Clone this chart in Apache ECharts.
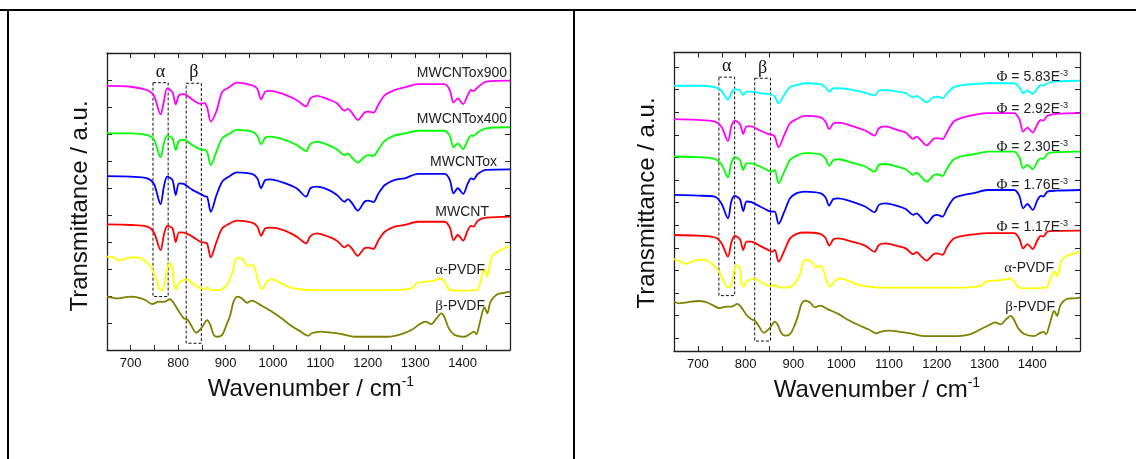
<!DOCTYPE html>
<html>
<head>
    <meta charset="UTF-8">
    <title>FTIR spectra</title>
    <script src="https://cdn.jsdelivr.net/npm/echarts@6/dist/echarts.min.js"></script>
    <style>
        html, body {margin: 0; padding: 0; background: #fff;}
        #main {width: 1136px; height: 459px;}
    </style>
</head>
<body>
<div id="main"></div>
<script>
    // wavenumber grids (cm-1)
    var wnMw = [650,700,735,749,763,770,777,788,795,802,812,830,847,855,861,869,881,893,907,924,956,967,975,984,994,1022,1050,1070,1079,1093,1117,1135,1151,1158,1166,1179,1193,1201,1212,1222,1236,1257,1278,1306,1362,1373,1381,1390,1401,1411,1418,1423,1432,1450,1500];
    var wnAlpha = [650,665,675,686,700,714,728,742,753,760,767,772,777,783,788,791,796,802,812,819,830,844,854,862,868,886,903,914,921,928,938,946,956,963,970,977,987,998,1015,1036,1057,1075,1138,1243,1292,1303,1320,1338,1354,1362,1371,1383,1429,1436,1443,1448,1452,1457,1462,1474,1488,1500];
    var wnBeta = [650,661,672,686,700,714,731,745,760,770,783,791,802,812,819,827,838,851,861,868,875,882,893,902,910,917,925,935,945,956,973,994,1015,1036,1057,1075,1082,1100,1124,1145,1173,1243,1271,1292,1310,1322,1334,1345,1355,1362,1371,1383,1404,1418,1424,1429,1436,1443,1446,1452,1459,1471,1488,1500];

    // left panel (offset transmittance, a.u.)
    var mwcntOx900 = [9.78,9.75,9.62,9.42,8.73,9.2,9.69,9.55,9.1,9.44,9.48,9.28,9.12,9.14,9.0,8.46,8.85,9.56,9.72,9.9,9.8,9.68,9.28,9.57,9.6,9.48,9.26,9.02,9.32,9.41,9.28,9.14,8.86,8.93,8.8,8.52,8.79,8.83,8.79,9.07,9.44,9.63,9.73,9.85,9.85,9.63,9.17,9.32,9.11,9.44,9.63,9.59,9.73,9.94,9.98];
    var mwcntOx400 = [8.02,8.02,7.96,7.8,7.14,7.65,7.94,7.84,7.41,7.75,7.78,7.59,7.43,7.41,7.35,6.85,7.35,7.84,8.0,8.15,8.09,7.93,7.62,7.86,7.9,7.8,7.59,7.37,7.63,7.72,7.59,7.43,7.22,7.28,7.14,6.94,7.16,7.22,7.19,7.41,7.75,7.95,8.02,8.12,8.12,7.93,7.51,7.65,7.44,7.78,7.95,7.93,8.06,8.21,8.25];
    var mwcntOx = [6.44,6.42,6.36,6.15,5.4,6.05,6.42,6.3,5.74,6.17,6.15,5.93,5.78,5.7,5.68,5.12,5.74,6.23,6.42,6.58,6.52,6.36,5.99,6.3,6.32,6.2,5.99,5.68,5.99,6.05,5.93,5.74,5.49,5.59,5.46,5.16,5.49,5.53,5.48,5.78,6.11,6.3,6.36,6.52,6.52,6.3,5.8,5.99,5.78,6.17,6.36,6.32,6.52,6.67,6.69];
    var mwcnt = [4.65,4.63,4.57,4.35,3.7,4.26,4.6,4.51,4.0,4.36,4.35,4.2,4.01,3.98,3.95,3.43,4.01,4.51,4.67,4.79,4.72,4.57,4.23,4.51,4.53,4.44,4.2,3.95,4.22,4.32,4.2,4.05,3.8,3.89,3.77,3.49,3.77,3.79,3.75,4.05,4.38,4.57,4.63,4.75,4.75,4.54,4.07,4.26,4.05,4.44,4.6,4.57,4.79,4.9,4.94];
    var alphaL = [3.46,3.43,3.31,3.37,3.43,3.43,3.33,3.09,2.65,2.28,2.22,2.47,3.02,3.21,3.02,2.47,2.25,2.49,2.59,2.62,2.47,2.32,2.25,2.32,2.22,2.22,2.41,2.84,3.33,3.43,3.33,3.11,3.15,2.96,2.47,2.25,2.53,2.62,2.49,2.32,2.25,2.22,2.22,2.22,2.28,2.47,2.53,2.56,2.64,2.53,2.25,2.2,2.22,2.41,2.9,2.96,2.72,3.09,3.46,3.64,3.77,3.83];
    var betaL = [1.98,1.94,1.91,1.95,1.98,1.95,1.85,1.7,1.79,1.78,1.88,1.73,1.42,1.17,1.14,0.93,0.64,0.86,1.11,0.93,0.56,0.49,0.56,0.93,1.3,1.79,1.98,1.91,1.75,1.83,1.67,1.46,1.21,0.93,0.7,0.53,0.62,0.68,0.64,0.59,0.49,0.49,0.59,0.74,0.96,1.05,0.96,1.17,1.36,1.21,0.8,0.56,0.49,0.62,0.68,0.59,0.99,1.48,1.58,1.36,1.79,2.04,2.12,2.16];

    // right panel
    var phi583 = [11.17,11.17,11.11,10.96,10.55,10.84,11.02,10.96,10.77,10.91,10.91,10.84,10.81,10.77,10.69,10.4,10.77,11.11,11.2,11.28,11.24,11.11,10.91,11.06,11.06,10.99,10.87,10.74,10.96,10.99,10.91,10.84,10.66,10.72,10.62,10.44,10.66,10.69,10.62,10.84,11.11,11.21,11.25,11.28,11.28,11.11,10.84,10.96,10.81,11.06,11.21,11.17,11.28,11.36,11.39];
    var phi292 = [9.69,9.66,9.59,9.37,8.73,9.37,9.63,9.48,9.04,9.37,9.37,9.19,9.04,9.0,8.92,8.45,9.0,9.51,9.7,9.84,9.78,9.59,9.25,9.51,9.54,9.4,9.19,8.97,9.29,9.37,9.22,9.1,8.82,8.92,8.78,8.53,8.81,8.85,8.81,9.14,9.59,9.78,9.88,9.96,9.96,9.69,9.14,9.32,9.1,9.48,9.66,9.63,9.84,9.93,9.96];
    var phi230 = [8.04,8.01,7.94,7.71,7.12,7.74,8.01,7.89,7.45,7.74,7.74,7.6,7.42,7.37,7.45,6.86,7.37,7.89,8.08,8.19,8.14,7.96,7.63,7.89,7.92,7.77,7.6,7.37,7.67,7.71,7.6,7.48,7.23,7.33,7.18,6.93,7.2,7.26,7.18,7.52,7.92,8.08,8.14,8.26,8.26,8.01,7.52,7.67,7.48,7.82,7.96,7.94,8.16,8.23,8.26];
    var phi176 = [6.34,6.31,6.27,5.97,5.31,6.05,6.3,6.15,5.63,6.05,6.02,5.83,5.65,5.6,5.6,5.06,5.6,6.19,6.42,6.49,6.42,6.24,5.87,6.17,6.19,6.05,5.83,5.58,5.9,5.97,5.86,5.72,5.46,5.53,5.38,5.09,5.41,5.46,5.38,5.75,6.19,6.34,6.42,6.56,6.56,6.3,5.75,5.94,5.68,6.12,6.3,6.27,6.49,6.53,6.56];
    var phi117 = [4.57,4.54,4.47,4.23,3.61,4.23,4.53,4.38,3.91,4.28,4.28,4.09,3.91,3.83,3.91,3.39,3.88,4.42,4.62,4.68,4.62,4.45,4.1,4.38,4.42,4.28,4.1,3.83,4.13,4.2,4.09,3.98,3.72,3.81,3.66,3.44,3.72,3.76,3.69,4.06,4.42,4.54,4.6,4.65,4.65,4.4,3.98,4.17,3.95,4.35,4.53,4.5,4.72,4.75,4.76];
    var alphaR = [3.5,3.39,3.29,3.38,3.47,3.47,3.32,3.02,2.58,2.29,2.26,2.51,3.1,3.24,3.1,2.46,2.29,2.51,2.61,2.64,2.51,2.36,2.32,2.36,2.26,2.24,2.43,2.88,3.39,3.47,3.39,3.14,3.2,3.02,2.51,2.29,2.55,2.65,2.54,2.36,2.29,2.24,2.24,2.24,2.32,2.51,2.55,2.58,2.65,2.51,2.26,2.21,2.24,2.51,2.88,2.95,2.73,3.1,3.47,3.66,3.76,3.83];
    var betaR = [1.62,1.55,1.58,1.62,1.65,1.62,1.47,1.33,1.4,1.4,1.52,1.37,1.03,0.84,0.78,0.56,0.25,0.47,0.74,0.56,0.22,0.12,0.19,0.55,1.03,1.52,1.67,1.58,1.37,1.45,1.28,1.08,0.81,0.59,0.4,0.22,0.29,0.34,0.29,0.22,0.1,0.1,0.19,0.4,0.59,0.71,0.62,0.84,0.99,0.81,0.44,0.19,0.1,0.25,0.29,0.19,0.59,1.11,1.21,0.99,1.47,1.73,1.77,1.8];

    // alpha / beta band boxes [x1, y1, x2, y2]
    var boxAlphaL = [747, 9.9, 779, 1.98];
    var boxBetaL = [817, 9.88, 849, 0.25];
    var boxAlphaR = [744, 11.55, 777, 1.89];
    var boxBetaR = [819, 11.5, 852, -0.12];

    var sansFont = "'Liberation Sans', Arial, sans-serif";
    var serifFont = "'Liberation Serif', 'Times New Roman', serif";

    function pairs(xs, ys) {
        var out = [];
        for (var i = 0; i < xs.length; i++) {
            out.push([xs[i], ys[i]]);
        }
        return out;
    }

    function tickFmt(v) {
        return (v % 100 === 0 && v > 650 && v < 1500) ? String(v) : '';
    }

    function xAx(grid, pos) {
        return {
            type: 'value', gridIndex: grid, position: pos,
            min: 650, max: 1500, interval: 50,
            axisLine: {show: true, onZero: false, lineStyle: {color: '#222', width: 1.3}},
            axisTick: {show: true, inside: true, length: 5, lineStyle: {color: '#222', width: 1}},
            axisLabel: {show: pos === 'bottom', formatter: tickFmt, color: '#111', fontSize: 13, fontFamily: sansFont, margin: 7},
            splitLine: {show: false}
        };
    }

    function yAx(grid, pos, mn, mx, ticks) {
        return {
            type: 'value', gridIndex: grid, position: pos,
            min: mn, max: mx,
            axisLine: {show: true, onZero: false, lineStyle: {color: '#222', width: 1.3}},
            axisTick: {show: true, inside: true, length: 5, customValues: ticks, lineStyle: {color: '#222', width: 1}},
            axisLabel: {show: false},
            splitLine: {show: false}
        };
    }

    function boxArea(b, txt) {
        return [{coord: [b[0], b[1]], label: {show: true, position: 'top', formatter: txt, distance: 1,
            color: '#111', fontFamily: serifFont, fontSize: 18}},
            {coord: [b[2], b[3]]}];
    }

    function line(name, xs, ys, color, xi, yi, areas) {
        var s = {
            name: name, type: 'line', xAxisIndex: xi, yAxisIndex: yi,
            data: pairs(xs, ys), smooth: 0.3, showSymbol: false,
            lineStyle: {color: color, width: 1.8}, itemStyle: {color: color},
            z: 3
        };
        if (areas) {
            s.markArea = {
                silent: true,
                itemStyle: {color: 'rgba(0,0,0,0)', borderColor: '#111', borderWidth: 1, borderType: [3, 2]},
                data: areas
            };
        }
        return s;
    }

    var ticksL = [0,1,2,3,4,5,6,7,8,9,10,11];
    var ticksR = [0,1,2,3,4,5,6,7,8,9,10,11,12];

    function seriesLabel(txt, x, y) {
        return {
            type: 'text', x: x, y: y, z: 10,
            style: {
                text: txt, textAlign: 'right', textVerticalAlign: 'middle',
                fontSize: 14, fontFamily: sansFont, fill: '#222',
                rich: {
                    g: {fontSize: 15, fontFamily: serifFont, fill: '#222'},
                    s: {fontSize: 9, fontFamily: sansFont, fill: '#222', verticalAlign: 'top', padding: [0, 0, 6, 0]}
                }
            }
        };
    }

    function axisTitle(txt, x, y, rot) {
        return {
            type: 'text', x: x, y: y, rotation: rot || 0, z: 10,
            style: {
                text: txt, textAlign: 'center', textVerticalAlign: 'middle',
                fontSize: 24, fontFamily: sansFont, fill: '#111',
                rich: {
                    s: {fontSize: 14, fontFamily: sansFont, fill: '#111', verticalAlign: 'top', padding: [0, 0, 13, 0]}
                }
            }
        };
    }

    function frameLine(x1, y1, x2, y2) {
        return {type: 'line', shape: {x1: x1, y1: y1, x2: x2, y2: y2}, style: {stroke: '#000', lineWidth: 2}, z: 10};
    }

    var myChart = echarts.init(document.getElementById('main'), null, {renderer: 'canvas'});

    var option = {
        animation: false,
        backgroundColor: '#fff',
        grid: [
            {left: 107, top: 53, width: 403, height: 297},
            {left: 674, top: 52.5, width: 406, height: 298.5}
        ],
        xAxis: [xAx(0, 'bottom'), xAx(0, 'top'), xAx(1, 'bottom'), xAx(1, 'top')],
        yAxis: [
            yAx(0, 'left', 0, 11, ticksL), yAx(0, 'right', 0, 11, ticksL),
            yAx(1, 'left', -0.56, 12.64, ticksR), yAx(1, 'right', -0.56, 12.64, ticksR)
        ],
        series: [
            line('MWCNTox900', wnMw, mwcntOx900, '#ff00ff', 0, 0, [boxArea(boxAlphaL, 'α'), boxArea(boxBetaL, 'β')]),
            line('MWCNTox400', wnMw, mwcntOx400, '#00ff00', 0, 0),
            line('MWCNTox', wnMw, mwcntOx, '#0000ff', 0, 0),
            line('MWCNT', wnMw, mwcnt, '#ff0000', 0, 0),
            line('α-PVDF', wnAlpha, alphaL, '#ffff00', 0, 0),
            line('β-PVDF', wnBeta, betaL, '#808000', 0, 0),
            line('Φ = 5.83E-3', wnMw, phi583, '#00ffff', 2, 2, [boxArea(boxAlphaR, 'α'), boxArea(boxBetaR, 'β')]),
            line('Φ = 2.92E-3', wnMw, phi292, '#ff00ff', 2, 2),
            line('Φ = 2.30E-3', wnMw, phi230, '#00ff00', 2, 2),
            line('Φ = 1.76E-3', wnMw, phi176, '#0000ff', 2, 2),
            line('Φ = 1.17E-3', wnMw, phi117, '#ff0000', 2, 2),
            line('α-PVDF ', wnAlpha, alphaR, '#ffff00', 2, 2),
            line('β-PVDF ', wnBeta, betaR, '#808000', 2, 2)
        ],
        graphic: [
            frameLine(0, 10, 1136, 10),
            frameLine(8, 10, 8, 459),
            frameLine(574, 10, 574, 459),
            axisTitle('Transmittance / a.u.', 80, 206, Math.PI / 2),
            axisTitle('Transmittance / a.u.', 647, 203, Math.PI / 2),
            axisTitle('Wavenumber / cm{s|-1}', 311, 389),
            axisTitle('Wavenumber / cm{s|-1}', 877, 390),
            seriesLabel('MWCNTox900', 507, 73),
            seriesLabel('MWCNTox400', 507, 119),
            seriesLabel('MWCNTox', 497, 162),
            seriesLabel('MWCNT', 489, 212),
            seriesLabel('{g|α}-PVDF', 485, 270),
            seriesLabel('{g|β}-PVDF', 485, 306),
            seriesLabel('{g|Φ} = 5.83E{s|-3}', 1068, 77),
            seriesLabel('{g|Φ} = 2.92E{s|-3}', 1068, 109),
            seriesLabel('{g|Φ} = 2.30E{s|-3}', 1068, 147),
            seriesLabel('{g|Φ} = 1.76E{s|-3}', 1068, 185),
            seriesLabel('{g|Φ} = 1.17E{s|-3}', 1068, 227),
            seriesLabel('{g|α}-PVDF', 1054, 268),
            seriesLabel('{g|β}-PVDF', 1055, 307)
        ]
    };
    // 使用刚指定的配置项和数据显示图表。
    myChart.setOption(option);
</script>
</body>
</html>
